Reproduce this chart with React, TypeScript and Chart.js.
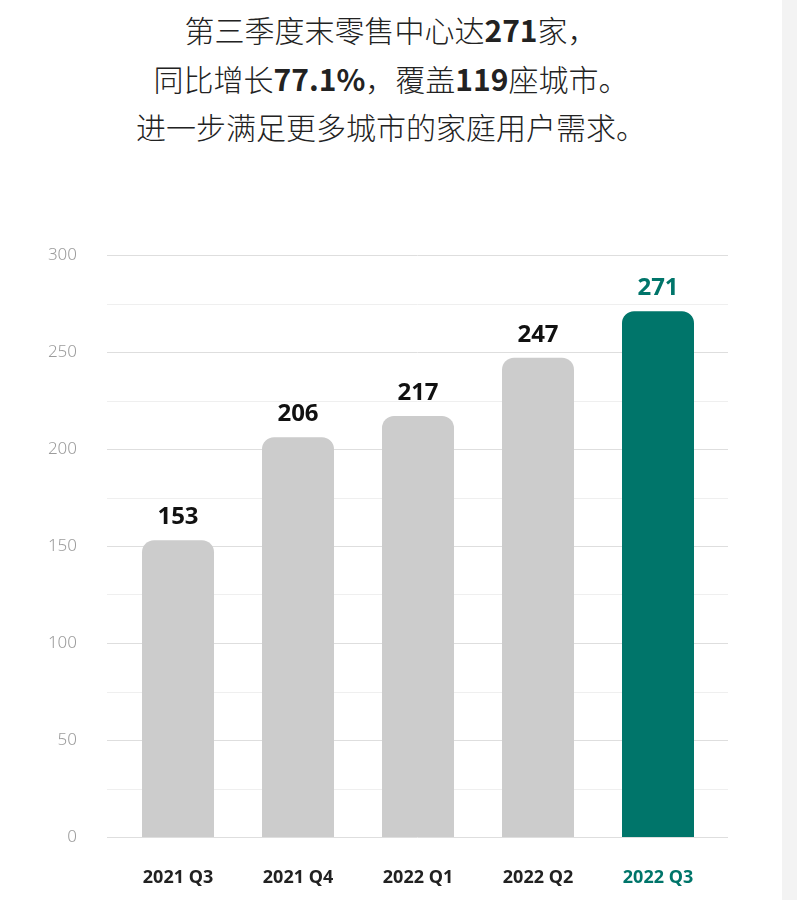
import { useEffect, useRef } from "react";
import { Chart, registerables, Plugin } from "chart.js";

Chart.register(...registerables);

const categories = ["2021 Q3", "2021 Q4", "2022 Q1", "2022 Q2", "2022 Q3"];
const centerCounts = [153, 206, 217, 247, 271];
const yTicks = [0, 50, 100, 150, 200, 250, 300];

const GRAY = "#cccccc";
const TEAL = "#00756a";
const FONT = '"Noto Sans", "Noto Sans CJK SC", sans-serif';

// grid lines run a little past the bars on both sides
const gridPlugin: Plugin<"bar"> = {
  id: "wideGrid",
  beforeDatasetsDraw(chart) {
    const { ctx, chartArea, scales } = chart;
    const y = scales.y;
    ctx.save();
    for (let v = 0; v <= 300; v += 25) {
      const py = Math.round(y.getPixelForValue(v)) + 0.5;
      ctx.strokeStyle = v % 50 === 0 ? "#dedede" : "#efefef";
      ctx.lineWidth = 1;
      ctx.beginPath();
      ctx.moveTo(chartArea.left - 11, py);
      ctx.lineTo(chartArea.right + 10, py);
      ctx.stroke();
    }
    ctx.restore();
  },
};

const valueLabels: Plugin<"bar"> = {
  id: "valueLabels",
  afterDatasetsDraw(chart) {
    const { ctx } = chart;
    const meta = chart.getDatasetMeta(0);
    ctx.save();
    ctx.font = `bold 24px ${FONT}`;
    ctx.textAlign = "center";
    ctx.textBaseline = "middle";
    meta.data.forEach((bar, i) => {
      ctx.fillStyle = i === centerCounts.length - 1 ? TEAL : "#111";
      ctx.fillText(String(centerCounts[i]), bar.x, bar.y - 23);
    });
    ctx.restore();
  },
};

function RetailChart() {
  const canvasRef = useRef<HTMLCanvasElement | null>(null);
  const chartRef = useRef<Chart | null>(null);

  useEffect(() => {
    if (!canvasRef.current) return;
    if (chartRef.current) chartRef.current.destroy();

    const last = categories.length - 1;

    chartRef.current = new Chart(canvasRef.current, {
      type: "bar",
      data: {
        labels: categories,
        datasets: [
          {
            data: centerCounts,
            backgroundColor: centerCounts.map((_, i) => (i === last ? TEAL : GRAY)),
            borderRadius: 12,
            borderSkipped: "start",
            barPercentage: 0.6,
            categoryPercentage: 1,
          },
        ],
      },
      options: {
        responsive: false,
        animation: false,
        layout: { padding: { top: 55, right: 64, left: 0, bottom: 0 } },
        plugins: {
          legend: { display: false },
          tooltip: { enabled: false },
        },
        scales: {
          x: {
            offset: true,
            grid: { display: false, drawTicks: false },
            border: { display: false },
            ticks: {
              padding: 30,
              color: (c) => (c.index === last ? TEAL : "#222"),
              font: { family: FONT, size: 18, weight: "bold" },
            },
            afterFit: (scale) => {
              scale.height = 63;
            },
          },
          y: {
            min: 0,
            max: 300,
            afterBuildTicks: (scale) => {
              scale.ticks = yTicks.map((v) => ({ value: v }));
            },
            grid: { display: false, drawTicks: false },
            border: { display: false },
            ticks: {
              padding: 41,
              color: "#9c9c9c",
              font: { family: FONT, size: 17, weight: 300 },
            },
            afterFit: (scale) => {
              scale.width = 118;
            },
          },
        },
      },
      plugins: [gridPlugin, valueLabels],
    });

    return () => {
      if (chartRef.current) {
        chartRef.current.destroy();
        chartRef.current = null;
      }
    };
  }, []);

  return <canvas ref={canvasRef} width={782} height={700} style={{ display: "block" }} />;
}

export default function App() {
  useEffect(() => {
    document.body.style.margin = "0";
    document.body.style.background = "#f3f3f3";
  }, []);

  const b = { fontWeight: 700 };

  return (
    <div style={{ width: 782, height: 900, background: "#fff", overflow: "hidden" }}>
      <div
        style={{
          height: 200,
          boxSizing: "border-box",
          paddingTop: 5,
          textAlign: "center",
          fontFamily: '"Noto Sans CJK SC", "Noto Sans", sans-serif',
          fontSize: 30,
          fontWeight: 300,
          lineHeight: "48.5px",
          color: "#222",
        }}
      >
        <div>
          第三季度末零售中心达<span style={b}>271</span>家，
        </div>
        <div>
          同比增长<span style={b}>77.1%</span>，覆盖<span style={b}>119</span>座城市。
        </div>
        <div>进一步满足更多城市的家庭用户需求。</div>
      </div>
      <RetailChart />
    </div>
  );
}
